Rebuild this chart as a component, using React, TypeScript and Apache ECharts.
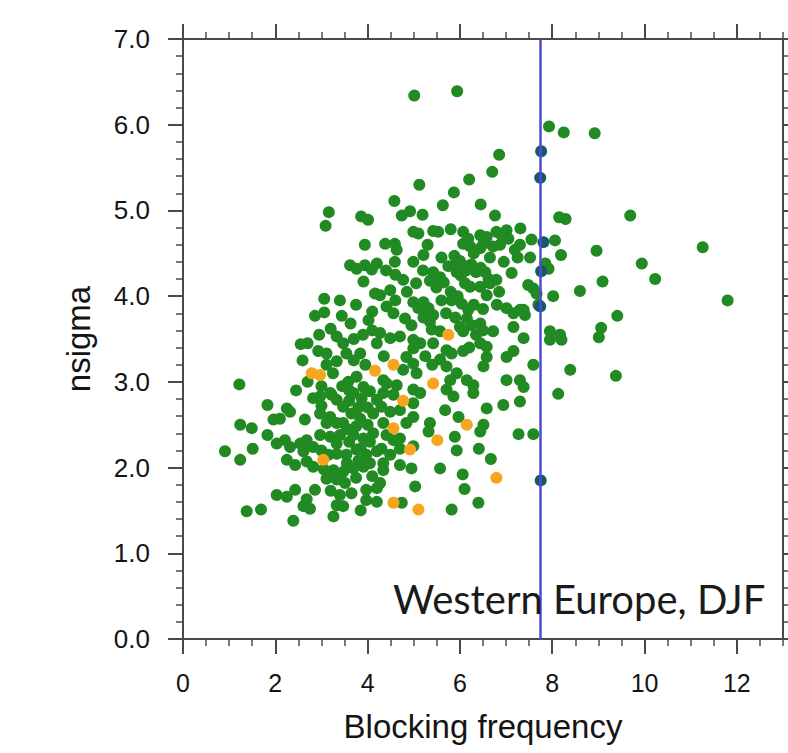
import React, { useEffect, useRef } from "react";
import * as echarts from "echarts";

// ---- tick values ----
const xMajorTicks = [0, 2, 4, 6, 8, 10, 12];
const xMin = 0;
const xMax = 13;
const yMin = 0;
const yMax = 7;
const thresholdX = 7.75;

// ---- point data (blocking frequency, nsigma) ----
const greenUpper: number[][] = [
  [5.01, 6.34], [5.94, 6.39], [7.93, 5.98], [8.25, 5.91], [8.92, 5.9], [6.85, 5.65], [6.7, 5.45],
  [6.2, 5.36], [5.87, 5.21], [5.12, 5.3], [4.58, 5.11], [3.16, 4.98], [3.09, 4.82], [3.86, 4.93],
  [4.01, 4.89], [4.74, 4.94], [4.92, 4.99], [5.19, 4.95], [5.63, 5.06], [6.45, 5.07], [6.76, 4.94],
  [8.15, 4.92], [8.29, 4.9], [9.69, 4.94], [4.99, 4.75], [5.1, 4.73], [5.42, 4.76], [5.53, 4.75],
  [5.8, 4.78], [6.07, 4.75], [6.18, 4.67], [6.44, 4.71], [6.58, 4.69], [6.79, 4.75], [6.9, 4.71],
  [7.01, 4.77], [7.05, 4.67], [7.31, 4.79], [7.55, 4.66], [8.06, 4.65], [3.94, 4.6], [4.38, 4.61],
  [4.59, 4.61], [4.63, 4.54], [6.07, 4.61], [6.22, 4.58], [6.44, 4.56], [6.51, 4.61], [6.72, 4.58],
  [6.87, 4.6], [7.19, 4.54], [8.19, 4.48], [8.96, 4.53], [11.26, 4.57],
];

const greenMiddle: number[][] = [
  [4.99, 4.4], [5.21, 4.48], [4.59, 4.4], [7.52, 4.45], [5.88, 4.47], [6.0, 4.41], [5.86, 4.35],
  [6.12, 4.35], [5.93, 4.28], [6.14, 4.3], [6.02, 4.24], [6.25, 4.37], [6.35, 4.28], [6.45, 4.33],
  [6.55, 4.28], [6.62, 4.2], [5.42, 4.28], [5.57, 4.22], [5.35, 4.18], [5.65, 4.16], [5.49, 4.1],
  [4.77, 4.19], [4.49, 4.07], [4.27, 4.01], [7.12, 4.27], [7.48, 4.13], [7.59, 4.09], [7.66, 4.03],
  [8.02, 4.0], [8.6, 4.06], [6.11, 4.15], [6.22, 4.11], [6.44, 4.11], [6.58, 4.01], [6.65, 4.15],
  [6.79, 4.19], [9.94, 4.38], [7.85, 4.38], [7.92, 4.32], [10.23, 4.2], [9.09, 4.17], [3.62, 4.36],
  [3.76, 4.32], [3.94, 4.36], [4.09, 4.31], [4.2, 4.38], [3.91, 4.17], [4.16, 4.03],
];

const greenCentral: number[][] = [
  [11.8, 3.95], [3.06, 3.97], [2.86, 3.77], [3.06, 3.81], [3.44, 3.77], [3.63, 3.68], [4.02, 3.72],
  [2.55, 3.44], [3.33, 3.53], [3.47, 3.45], [2.93, 3.36], [3.11, 3.33], [3.54, 3.33], [3.84, 3.33],
  [4.2, 3.45], [2.59, 3.25], [3.11, 3.2], [3.33, 3.24], [3.58, 3.0], [3.76, 3.06], [4.99, 3.93],
  [5.1, 3.86], [5.21, 3.93], [5.32, 3.86], [5.42, 3.78], [5.21, 3.75], [5.35, 3.7], [5.82, 3.95],
  [6.04, 3.91], [6.18, 3.84], [4.41, 3.88], [4.56, 3.8], [7.01, 3.86], [7.16, 3.8], [7.3, 3.84],
  [4.81, 3.74], [4.95, 3.66], [5.39, 3.61], [5.57, 3.59], [6.15, 3.74], [6.25, 3.66], [6.0, 3.64],
  [6.07, 3.59], [6.44, 3.68], [6.72, 3.59], [7.16, 3.64], [7.95, 3.59], [8.17, 3.55], [7.38, 3.51],
  [4.27, 3.57], [4.49, 3.51], [4.7, 3.53], [4.99, 3.49], [5.14, 3.45], [4.99, 3.39], [5.42, 3.45],
  [5.71, 3.37], [5.82, 3.33], [6.07, 3.36], [6.44, 3.45], [6.58, 3.41], [6.58, 3.29], [7.01, 3.29],
  [7.16, 3.36], [7.59, 3.2], [8.39, 3.14], [4.84, 3.29], [4.99, 3.21], [4.77, 3.14], [5.06, 3.1],
  [5.57, 3.26], [5.71, 3.18], [5.93, 3.1], [5.79, 3.02], [6.15, 3.02], [7.01, 3.02], [7.3, 3.02],
  [4.34, 3.02], [6.51, 3.18], [7.7, 3.9], [7.38, 3.84], [7.41, 3.78], [9.41, 3.77], [9.06, 3.63],
  [9.01, 3.52], [7.95, 3.49], [8.2, 3.49], [9.38, 3.07],
];

const greenLowerLeft: number[][] = [
  [1.22, 2.97], [1.83, 2.73], [2.25, 2.69], [2.32, 2.65], [1.96, 2.56], [2.1, 2.57], [2.64, 2.56],
  [1.24, 2.5], [1.49, 2.46], [1.83, 2.38], [2.03, 2.28], [2.21, 2.32], [0.91, 2.19], [1.51, 2.22],
  [1.24, 2.09], [2.25, 2.09], [2.43, 2.03], [2.03, 1.68], [2.25, 1.66], [2.43, 1.74], [1.38, 1.49],
  [1.69, 1.51], [2.39, 1.38], [2.61, 1.55], [2.75, 1.52], [2.68, 1.63], [2.86, 1.74], [3.26, 1.43],
  [3.33, 1.56], [3.47, 1.55], [2.82, 2.81], [2.97, 2.83], [3.22, 2.85], [3.33, 2.79], [3.47, 2.71],
  [3.69, 2.87], [3.87, 2.81], [4.05, 2.89], [4.2, 2.79], [3.91, 2.94], [3.19, 2.87], [2.97, 2.63],
  [3.19, 2.59], [3.11, 2.52], [3.33, 2.52], [3.47, 2.52], [3.65, 2.63], [3.84, 2.57], [4.12, 2.63],
  [3.69, 2.38], [3.91, 2.34], [4.12, 2.4], [2.97, 2.38], [3.19, 2.36], [3.33, 2.28], [2.32, 2.24],
  [2.54, 2.28], [2.68, 2.32], [2.82, 2.24], [2.61, 2.19], [2.68, 2.07], [2.82, 2.01], [3.33, 2.16],
  [3.54, 2.15], [3.76, 2.21], [3.97, 2.15], [4.2, 2.19], [3.26, 1.97], [3.47, 1.95], [3.69, 1.99],
  [3.91, 2.01], [3.11, 1.87], [3.33, 1.86], [3.51, 1.82], [3.65, 1.7], [3.97, 1.74], [4.2, 1.76],
  [3.97, 1.62], [4.2, 1.6],
];

const greenLowerRight: number[][] = [
  [4.41, 2.98], [4.63, 2.96], [4.34, 2.87], [4.56, 2.85], [4.3, 2.71], [4.49, 2.65], [4.7, 2.67],
  [4.99, 2.75], [5.14, 2.87], [4.99, 2.59], [4.84, 2.52], [4.34, 2.52], [4.41, 2.38], [4.7, 2.34],
  [4.3, 2.22], [4.49, 2.15], [4.7, 2.22], [4.34, 2.05], [4.7, 2.03], [4.99, 2.91], [7.38, 2.94],
  [8.13, 2.86], [7.3, 2.77], [6.94, 2.73], [6.58, 2.69], [5.97, 2.59], [6.51, 2.5], [6.44, 2.42],
  [7.27, 2.39], [7.59, 2.39], [5.89, 2.36], [5.32, 2.42], [5.93, 2.2], [6.41, 2.22], [6.67, 2.1],
  [5.57, 1.99], [6.06, 1.92], [6.1, 1.75], [5.03, 1.78], [4.95, 1.99], [6.4, 1.59], [5.82, 1.51],
  [4.74, 1.59], [4.27, 1.82], [4.34, 1.97], [4.56, 2.32], [4.99, 2.25], [5.35, 2.52], [5.68, 2.67],
  [5.71, 2.91], [5.86, 2.83], [6.29, 2.87], [6.29, 2.96],
];

const greenDenseCore: number[][] = [
  [3.0, 2.72], [3.6, 2.78], [3.8, 2.7], [4.0, 2.7], [3.55, 2.45], [3.75, 2.48], [4.0, 2.5],
  [3.4, 2.38], [3.0, 2.2], [3.15, 2.15], [3.6, 2.3], [3.85, 2.22], [4.05, 2.3], [4.05, 2.05],
  [3.8, 2.08], [3.55, 2.05], [3.05, 1.98], [3.75, 1.88], [4.1, 1.9], [3.2, 1.73], [3.4, 1.68],
  [3.85, 1.5], [3.0, 2.95], [3.45, 2.95], [3.6, 2.9], [2.7, 3.45], [2.95, 3.55], [3.2, 3.62],
  [3.7, 3.5], [3.9, 3.55], [4.1, 3.6], [3.95, 3.2], [3.7, 3.25], [4.35, 3.3], [4.1, 3.82],
  [3.75, 3.9], [3.4, 3.95], [3.25, 3.1], [2.7, 3.0], [2.45, 2.9], [4.6, 4.25], [4.4, 4.3],
  [4.85, 4.05], [5.05, 4.15], [4.6, 3.95], [5.3, 4.6], [5.6, 4.45], [5.75, 4.35], [5.2, 4.3],
  [5.8, 4.05], [5.95, 4.0], [6.3, 3.9], [6.5, 3.85], [5.6, 3.95], [5.7, 3.8], [5.9, 3.75],
  [6.35, 3.55], [6.5, 3.6], [5.25, 3.3], [5.4, 3.2], [6.2, 3.4], [6.8, 3.9], [6.85, 4.05],
  [6.95, 4.4], [7.25, 4.45], [7.3, 4.6], [6.3, 4.5], [6.65, 4.45],
];

const orangePoints: number[][] = [
  [2.79, 3.1], [2.97, 3.08], [3.04, 2.09], [4.16, 3.13], [4.56, 3.2], [5.42, 2.98], [5.75, 3.55],
  [4.77, 2.78], [4.56, 2.46], [4.92, 2.21], [5.51, 2.32], [6.15, 2.5], [6.79, 1.88], [5.1, 1.51],
  [4.56, 1.59],
];

const darkPoints: number[][] = [
  [7.76, 5.69], [7.74, 5.38], [7.81, 4.63], [7.76, 4.29], [7.74, 3.88], [7.75, 1.85],
];

const AXIS_COLOR = "#4a4a4a";
const TEXT_COLOR = "#141414";
const TEXT_FONT = "Liberation Sans";

function xAxes(position: "bottom" | "top") {
  const isBottom = position === "bottom";
  return [
    {
      type: "value",
      position,
      min: xMin,
      max: xMax,
      interval: 2,
      axisLine: { show: true, onZero: false, lineStyle: { color: AXIS_COLOR, width: 2 } },
      axisTick: {
        show: true,
        inside: false,
        length: 15,
        customValues: xMajorTicks,
        lineStyle: { color: AXIS_COLOR, width: 2 },
      },
      axisLabel: isBottom
        ? {
            show: true,
            customValues: xMajorTicks,
            margin: 31,
            fontSize: 25,
            color: TEXT_COLOR,
            fontFamily: TEXT_FONT,
            formatter: (v: number) => (v === xMax ? "" : String(v)),
          }
        : { show: false },
      splitLine: { show: false },
      name: isBottom ? "Blocking frequency" : "",
      nameLocation: "middle",
      nameGap: 71,
      nameTextStyle: { fontSize: 33, color: TEXT_COLOR, fontFamily: TEXT_FONT },
    },
    {
      type: "value",
      position,
      min: xMin,
      max: xMax,
      interval: 0.5,
      axisLine: { show: false, onZero: false },
      axisTick: { show: true, inside: false, length: 7, lineStyle: { color: AXIS_COLOR, width: 1.5 } },
      axisLabel: { show: false },
      splitLine: { show: false },
    },
  ];
}

function yAxis(position: "left" | "right") {
  const isLeft = position === "left";
  return {
    type: "value",
    position,
    min: yMin,
    max: yMax,
    interval: 1,
    axisLine: { show: true, onZero: false, lineStyle: { color: AXIS_COLOR, width: 2 } },
    axisTick: { show: true, inside: false, length: 15, lineStyle: { color: AXIS_COLOR, width: 2 } },
    minorTick: { show: true, splitNumber: 5, length: 7, lineStyle: { color: AXIS_COLOR, width: 1.5 } },
    axisLabel: isLeft
      ? {
          show: true,
          margin: 33,
          fontSize: 26,
          color: TEXT_COLOR,
          fontFamily: TEXT_FONT,
          formatter: (v: number) => v.toFixed(1),
        }
      : { show: false },
    splitLine: { show: false },
    minorSplitLine: { show: false },
    name: isLeft ? "nsigma" : "",
    nameLocation: "middle",
    nameGap: 88,
    nameTextStyle: { fontSize: 33, color: TEXT_COLOR, fontFamily: TEXT_FONT },
  };
}

export default function App() {
  const ref = useRef<HTMLDivElement>(null);
  useEffect(() => {
    if (!ref.current) return;
    const chart = echarts.init(ref.current, null, { renderer: "svg" });
    const green = [
      ...greenUpper,
      ...greenMiddle,
      ...greenCentral,
      ...greenLowerLeft,
      ...greenLowerRight,
      ...greenDenseCore,
    ];
    chart.setOption({
      animation: false,
      backgroundColor: "#ffffff",
      grid: { left: 183, right: 5, top: 39, bottom: 114, containLabel: false },
      xAxis: [...xAxes("bottom"), ...xAxes("top")],
      yAxis: [yAxis("left"), yAxis("right")],
      series: [
        {
          type: "scatter",
          xAxisIndex: 0,
          yAxisIndex: 0,
          data: green,
          symbol: "circle",
          symbolSize: 12,
          itemStyle: { color: "#228a22", opacity: 1 },
          z: 2,
        },
        {
          type: "scatter",
          xAxisIndex: 0,
          yAxisIndex: 0,
          data: orangePoints,
          symbol: "circle",
          symbolSize: 12,
          itemStyle: { color: "#f9a41e", opacity: 1 },
          z: 3,
        },
        {
          type: "scatter",
          xAxisIndex: 0,
          yAxisIndex: 0,
          data: darkPoints,
          symbol: "circle",
          symbolSize: 12,
          itemStyle: { color: "#17566b", opacity: 1 },
          z: 3,
        },
        {
          type: "scatter",
          xAxisIndex: 0,
          yAxisIndex: 0,
          data: [],
          z: 5,
          markLine: {
            silent: true,
            symbol: ["none", "none"],
            label: { show: false },
            lineStyle: { color: "#4d4dcc", width: 2.5, type: "solid" },
            data: [{ xAxis: thresholdX }],
          },
        },
      ],
      graphic: [
        {
          type: "text",
          x: 393,
          y: 599,
          z: 10,
          style: {
            text: "Western Europe, DJF",
            fontSize: 40,
            fontFamily: "Lato",
            fill: "#1a1a1a",
            verticalAlign: "middle",
            align: "left",
          },
        },
      ],
    });
    return () => chart.dispose();
  }, []);
  return (
    <div
      ref={ref}
      style={{ position: "fixed", left: 0, top: 0, width: 788, height: 753, background: "#fff" }}
    />
  );
}
